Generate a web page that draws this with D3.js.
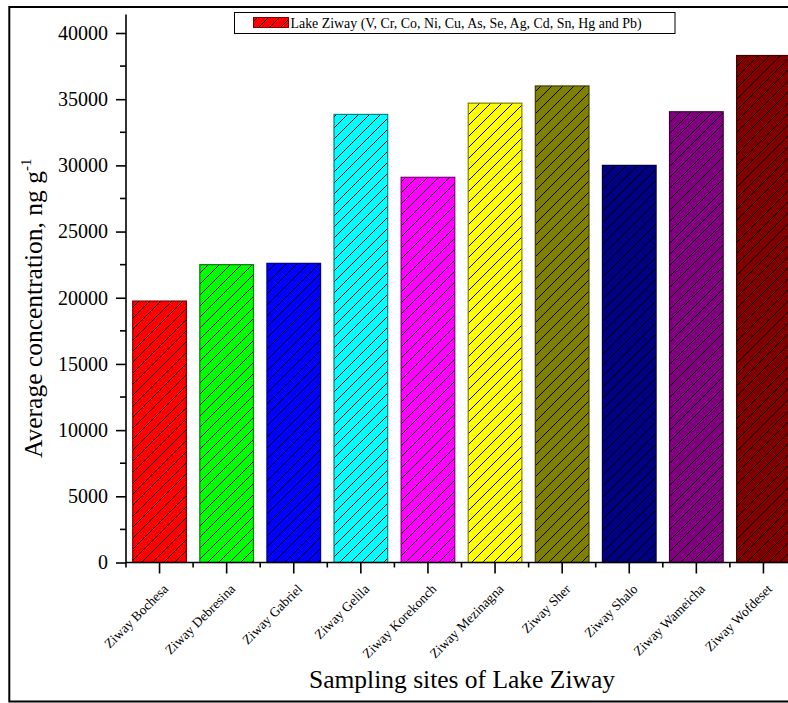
<!DOCTYPE html>
<html>
<head>
<meta charset="utf-8">
<script src="https://cdn.jsdelivr.net/npm/d3@7"></script>
<style>
  html, body { margin: 0; padding: 0; background: #fff; }
  svg { display: block; }
  text { font-family: "Liberation Serif", "Times New Roman", serif; fill: #000; }
</style>
</head>
<body>
<svg id="chart" width="788" height="703"></svg>
<script>
// Sampling sites and their average concentration (ng g-1)
const sites = ["Ziway Bochesa", "Ziway Debresina", "Ziway Gabriel", "Ziway Gelila",
  "Ziway Korekonch", "Ziway Mezinagna", "Ziway Sher", "Ziway Shalo",
  "Ziway Wameicha", "Ziway Wofdeset"];
const concentration = [19750, 22500, 22600, 33850, 29100, 34700, 36000, 30000, 34050, 38300];
const barColors = ["#ff0000", "#00ff00", "#0000ff", "#00ffff", "#ff00ff",
  "#ffff00", "#808000", "#000080", "#800080", "#800000"];
const yTicks = [0, 5000, 10000, 15000, 20000, 25000, 30000, 35000, 40000];
const yMinorTicks = [2500, 7500, 12500, 17500, 22500, 27500, 32500, 37500];
const legendLabel = "Lake Ziway (V, Cr, Co, Ni, Cu, As, Se, Ag, Cd, Sn, Hg and Pb)";
const xTitle = "Sampling sites of Lake Ziway";
const yTitle = "Average concentration, ng g";

const svg = d3.select("#chart");
const axisX0 = 126, axisX1 = 797, axisY0 = 562.5;

const x = d3.scaleBand().domain(sites).range([axisX0, axisX1]).paddingInner(0.2).paddingOuter(0.1);
const y = d3.scaleLinear().domain([0, 41400]).range([axisY0, axisY0 - 41400 * (529.5 / 40000)]);

const darken = c => { const r = d3.rgb(c); return d3.rgb(r.r * 0.5, r.g * 0.5, r.b * 0.5).formatHex(); };

// Hatched fills: solid colour with thin black forward-slash lines
const defs = svg.append("defs");
barColors.forEach((c, i) => {
  const p = defs.append("pattern").attr("id", "hatch" + i)
    .attr("patternUnits", "userSpaceOnUse").attr("width", 11).attr("height", 11);
  p.append("rect").attr("width", 11).attr("height", 11).attr("fill", c);
  p.append("path").attr("d", "M-1,1 L1,-1 M0,11 L11,0 M10,12 L12,10")
    .attr("stroke", "#000").attr("stroke-width", 1);
});

// Outer frame
svg.append("rect").attr("x", 9.3).attr("y", 7).attr("width", 820).attr("height", 694.5)
  .attr("fill", "none").attr("stroke", "#000").attr("stroke-width", 2);

// Bars
svg.append("g").selectAll("rect").data(sites).join("rect")
  .attr("x", d => x(d))
  .attr("y", (d, i) => y(concentration[i]))
  .attr("width", x.bandwidth())
  .attr("height", (d, i) => y(0) - y(concentration[i]))
  .attr("fill", (d, i) => `url(#hatch${i})`)
  .attr("stroke", (d, i) => darken(barColors[i]))
  .attr("stroke-width", 1.2);

// Y axis
const yAxis = svg.append("g").attr("transform", `translate(${axisX0},0)`);
yAxis.call(d3.axisLeft(y).tickValues(yTicks).tickSize(10).tickPadding(8).tickFormat(d3.format("d")));
yAxis.select(".domain").attr("d", `M0,${y.range()[1]}V${axisY0}`);
yAxis.append("g").selectAll("line").data(yMinorTicks).join("line")
  .attr("x1", -6).attr("x2", 0).attr("y1", d => y(d)).attr("y2", d => y(d));
yAxis.selectAll("line, .domain").attr("stroke", "#000").attr("stroke-width", 1.6);
yAxis.selectAll("text").attr("font-size", 20).attr("font-family", "Liberation Serif");

// X axis
const xAxis = svg.append("g").attr("transform", `translate(0,${axisY0})`);
xAxis.call(d3.axisBottom(x).tickSize(11).tickPadding(4));
xAxis.select(".domain").attr("d", `M${axisX0},0H${axisX1}`);
const bounds = d3.range(sites.length + 1).map(i => axisX0 + i * x.step());
xAxis.append("g").selectAll("line").data(bounds).join("line")
  .attr("x1", d => d).attr("x2", d => d).attr("y1", 0).attr("y2", 5);
xAxis.selectAll("line, .domain").attr("stroke", "#000").attr("stroke-width", 1.6);
xAxis.selectAll(".tick text")
  .attr("font-size", 13.5).attr("font-family", "Liberation Serif")
  .attr("text-anchor", "end")
  .attr("transform", "translate(6,24) rotate(-45)")
  .attr("dy", "0.35em").attr("y", 0).attr("x", 0);

// Axis titles
svg.append("text").attr("x", 462).attr("y", 688).attr("text-anchor", "middle")
  .attr("font-size", 25.5).text(xTitle);
const yt = svg.append("text").attr("transform", "translate(42,458) rotate(-90)")
  .attr("font-size", 25.5);
yt.append("tspan").text(yTitle);
yt.append("tspan").attr("font-size", 15).attr("dy", -11).text("-1");

// Legend
const lg = svg.append("g");
lg.append("rect").attr("x", 234.5).attr("y", 12.5).attr("width", 440.5).attr("height", 21)
  .attr("fill", "#fff").attr("stroke", "#000").attr("stroke-width", 1);
lg.append("rect").attr("x", 253.5).attr("y", 17.5).attr("width", 35).attr("height", 10)
  .attr("fill", "url(#hatch0)").attr("stroke", darken(barColors[0])).attr("stroke-width", 1);
lg.append("text").attr("x", 290.5).attr("y", 27.5).attr("font-size", 13.9).text(legendLabel);
</script>
</body>
</html>
